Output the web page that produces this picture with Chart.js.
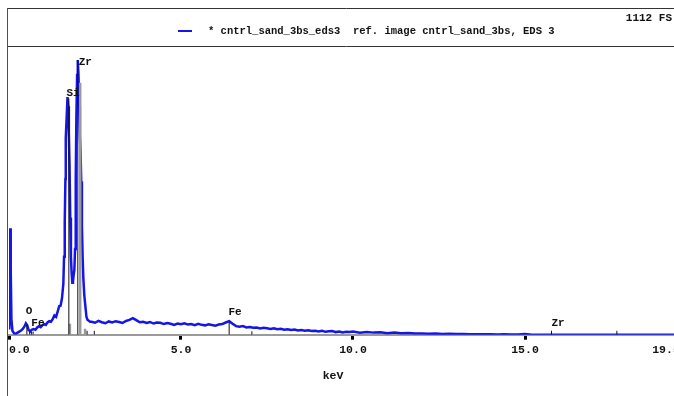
<!DOCTYPE html>
<html>
<head>
<meta charset="utf-8">
<script src="https://cdn.jsdelivr.net/npm/chart.js@4.4.0/dist/chart.umd.min.js"></script>
<style>
  html, body { margin: 0; padding: 0; background: #fff; }
  #wrap { width: 674px; height: 396px; overflow: hidden; position: relative; }
  #inner { width: 686px; height: 396px; }
</style>
</head>
<body>
<div id="wrap"><div id="inner"><canvas id="eds" width="686" height="396"></canvas></div></div>
<script>
// EDS spectrum, energy in keV and counts
const fullScale = 1112;
const energies = [
  0.01, 0.03, 0.05, 0.07, 0.10, 0.15, 0.20, 0.25, 0.30, 0.35, 0.40, 0.45, 0.49, 0.53, 0.57,
  0.62, 0.67, 0.72, 0.77, 0.82, 0.87, 0.92, 0.97, 1.02, 1.07, 1.12, 1.17, 1.22, 1.27, 1.32,
  1.37, 1.42, 1.46, 1.50, 1.54, 1.58, 1.60, 1.62, 1.64, 1.65, 1.68, 1.70, 1.72, 1.74, 1.76,
  1.78, 1.80, 1.82, 1.84, 1.86, 1.88, 1.90, 1.92, 1.94, 1.96, 1.98, 2.00, 2.02, 2.04, 2.06,
  2.08, 2.10, 2.12, 2.14, 2.16, 2.19, 2.22, 2.25, 2.28, 2.32, 2.36,
  2.4, 2.5, 2.6, 2.7, 2.8, 2.9, 3.0, 3.1, 3.2, 3.3, 3.4, 3.5, 3.6, 3.7, 3.8, 3.9,
  4.0, 4.1, 4.2, 4.3, 4.4, 4.5, 4.6, 4.7, 4.8, 4.9, 5.0, 5.1, 5.2, 5.3, 5.4, 5.5,
  5.6, 5.7, 5.8, 5.9, 6.0, 6.1, 6.2, 6.3, 6.4, 6.5, 6.6, 6.7, 6.8, 6.9, 7.0, 7.1,
  7.2, 7.3, 7.4, 7.5, 7.6, 7.7, 7.8, 7.9, 8.0, 8.1, 8.2, 8.3, 8.4, 8.5, 8.6, 8.7,
  8.8, 8.9, 9.0, 9.1, 9.2, 9.3, 9.4, 9.5, 9.6, 9.7, 9.8, 9.9, 10.0,
  10.2, 10.4, 10.6, 10.8, 11.0, 11.2, 11.4, 11.6, 11.8, 12.0, 12.2, 12.4, 12.6, 12.8,
  13.0, 13.2, 13.4, 13.6, 13.8, 14.0, 14.2, 14.4, 14.6, 14.8, 15.0, 15.2, 19.5
];
const counts = [
  20, 410, 250, 60, 15, 5, 4, 8, 12, 16, 22, 32, 44, 36, 18,
  13, 20, 22, 19, 28, 33, 29, 37, 41, 38, 47, 52, 50, 60, 74,
  69, 92, 110, 112, 140, 197, 300, 430, 600, 757, 850, 915, 880, 780, 650,
  450, 300, 240, 200, 205, 230, 250, 330, 600, 850, 1000, 1058, 1000, 880, 770,
  700, 590, 420, 300, 220, 150, 110, 70, 58, 54, 50,
  50, 46, 53, 48, 44, 51, 47, 52, 49, 45, 53, 57, 64, 56, 48, 50,
  45, 49, 43, 47, 46, 41, 45, 42, 38, 43, 40, 44, 39, 41, 37, 42,
  38, 36, 40, 37, 35, 39, 41, 47, 52, 42, 33, 31, 33, 28, 30, 27,
  28, 24, 27, 25, 22, 25, 21, 23, 19, 21, 18, 20, 16, 18, 15, 17,
  14, 15, 12, 15, 11, 13, 14, 10, 12, 9, 11, 10, 12,
  8, 10, 8, 9, 6, 8, 6, 7, 5, 5, 4, 5, 3, 4,
  3, 3, 2, 2, 2, 2, 1, 2, 1, 1, 3, 0, 0
];

// element line markers (KLM)
const markerEnergies = [0.52, 0.60, 0.65, 0.70, 1.74, 2.00, 2.27, 2.48, 6.40, 7.06, 15.77, 17.67];
const markerHeights  = [39, 12, 12, 12, 910, 1058, 15, 15, 50, 13, 15, 15];
const greyMarkerEnergies = [1.77, 2.07, 2.21];
const greyMarkerHeights  = [42, 970, 23];

// element labels
const labelTexts    = ["O", "Fe", "Si", "Zr", "Fe", "Zr"];
const labelEnergies = [0.58, 0.84, 1.86, 2.22, 6.57, 15.96];
const labelCounts   = [89, 46, 930, 1050, 85, 46];

const seriesName = "* cntrl_sand_3bs_eds3  ref. image cntrl_sand_3bs, EDS 3";
const monoFont = "'Liberation Mono', 'DejaVu Sans Mono', monospace";

function markerData(es, hs) {
  const out = [];
  es.forEach((e, i) => {
    out.push({ x: e, y: 0 }, { x: e, y: hs[i] }, { x: e, y: null });
  });
  return out;
}

const frame = {
  id: "frame",
  afterDraw(chart) {
    const ctx = chart.ctx;
    ctx.save();
    ctx.lineWidth = 1;
    ctx.strokeStyle = "#333";
    ctx.beginPath();
    ctx.moveTo(7, 8.5); ctx.lineTo(686, 8.5);
    ctx.moveTo(7, 46.5); ctx.lineTo(686, 46.5);
    ctx.stroke();
    ctx.strokeStyle = "#4a4a7a";
    ctx.beginPath();
    ctx.moveTo(7.5, 8); ctx.lineTo(7.5, 396);
    ctx.stroke();

    ctx.fillStyle = "#111";
    ctx.font = "bold 11px " + monoFont;
    ctx.textBaseline = "middle";
    ctx.textAlign = "right";
    ctx.fillText(fullScale + " FS", 672, 18);

    ctx.strokeStyle = "#1515e8";
    ctx.lineWidth = 2;
    ctx.beginPath();
    ctx.moveTo(178, 31); ctx.lineTo(192, 31);
    ctx.stroke();
    ctx.font = "bold 10.5px " + monoFont;
    ctx.textAlign = "left";
    ctx.fillText(seriesName, 208, 31);

    ctx.font = "bold 11.5px " + monoFont;
    ctx.textAlign = "center";
    ctx.fillText("keV", 333, 376);

    // element labels
    const xs = chart.scales.x, ys = chart.scales.y;
    ctx.font = "bold 11px " + monoFont;
    labelTexts.forEach((t, i) => {
      ctx.fillText(t, xs.getPixelForValue(labelEnergies[i]), ys.getPixelForValue(labelCounts[i]));
    });
    ctx.restore();
  }
};

new Chart(document.getElementById("eds"), {
  type: "line",
  data: {
    datasets: [
      {
        label: "grey lines",
        data: markerData(greyMarkerEnergies, greyMarkerHeights),
        borderColor: "#9a9a9a", borderWidth: 2.5, pointRadius: 0, spanGaps: false, order: 1
      },
      {
        label: seriesName,
        data: energies.map((e, i) => ({ x: e, y: counts[i] })),
        borderColor: "#1515e8", borderWidth: 2.5, pointRadius: 0, tension: 0, order: 2
      },
      {
        label: "lines",
        data: markerData(markerEnergies, markerHeights),
        borderColor: "#111", borderWidth: 1, pointRadius: 0, spanGaps: false, order: 0
      }
    ]
  },
  options: {
    responsive: false,
    animation: false,
    devicePixelRatio: 1,
    layout: { padding: { top: 46, left: 9, right: 6.2, bottom: 34.5 } },
    plugins: { legend: { display: false }, tooltip: { enabled: false } },
    scales: {
      x: {
        type: "linear", min: 0, max: 19.5,
        ticks: {
          stepSize: 5, align: "inner", padding: 4, maxRotation: 0, autoSkip: false,
          color: "#111", font: { family: monoFont, size: 11.5, weight: "bold" },
          callback: v => v.toFixed(1)
        },
        grid: { drawOnChartArea: false, drawTicks: true, tickLength: 5, tickWidth: 3, tickColor: "#000" },
        border: { color: "#9a9a9a", width: 2 }
      },
      y: { display: false, min: 0, max: fullScale }
    }
  },
  plugins: [frame]
});
</script>
</body>
</html>
